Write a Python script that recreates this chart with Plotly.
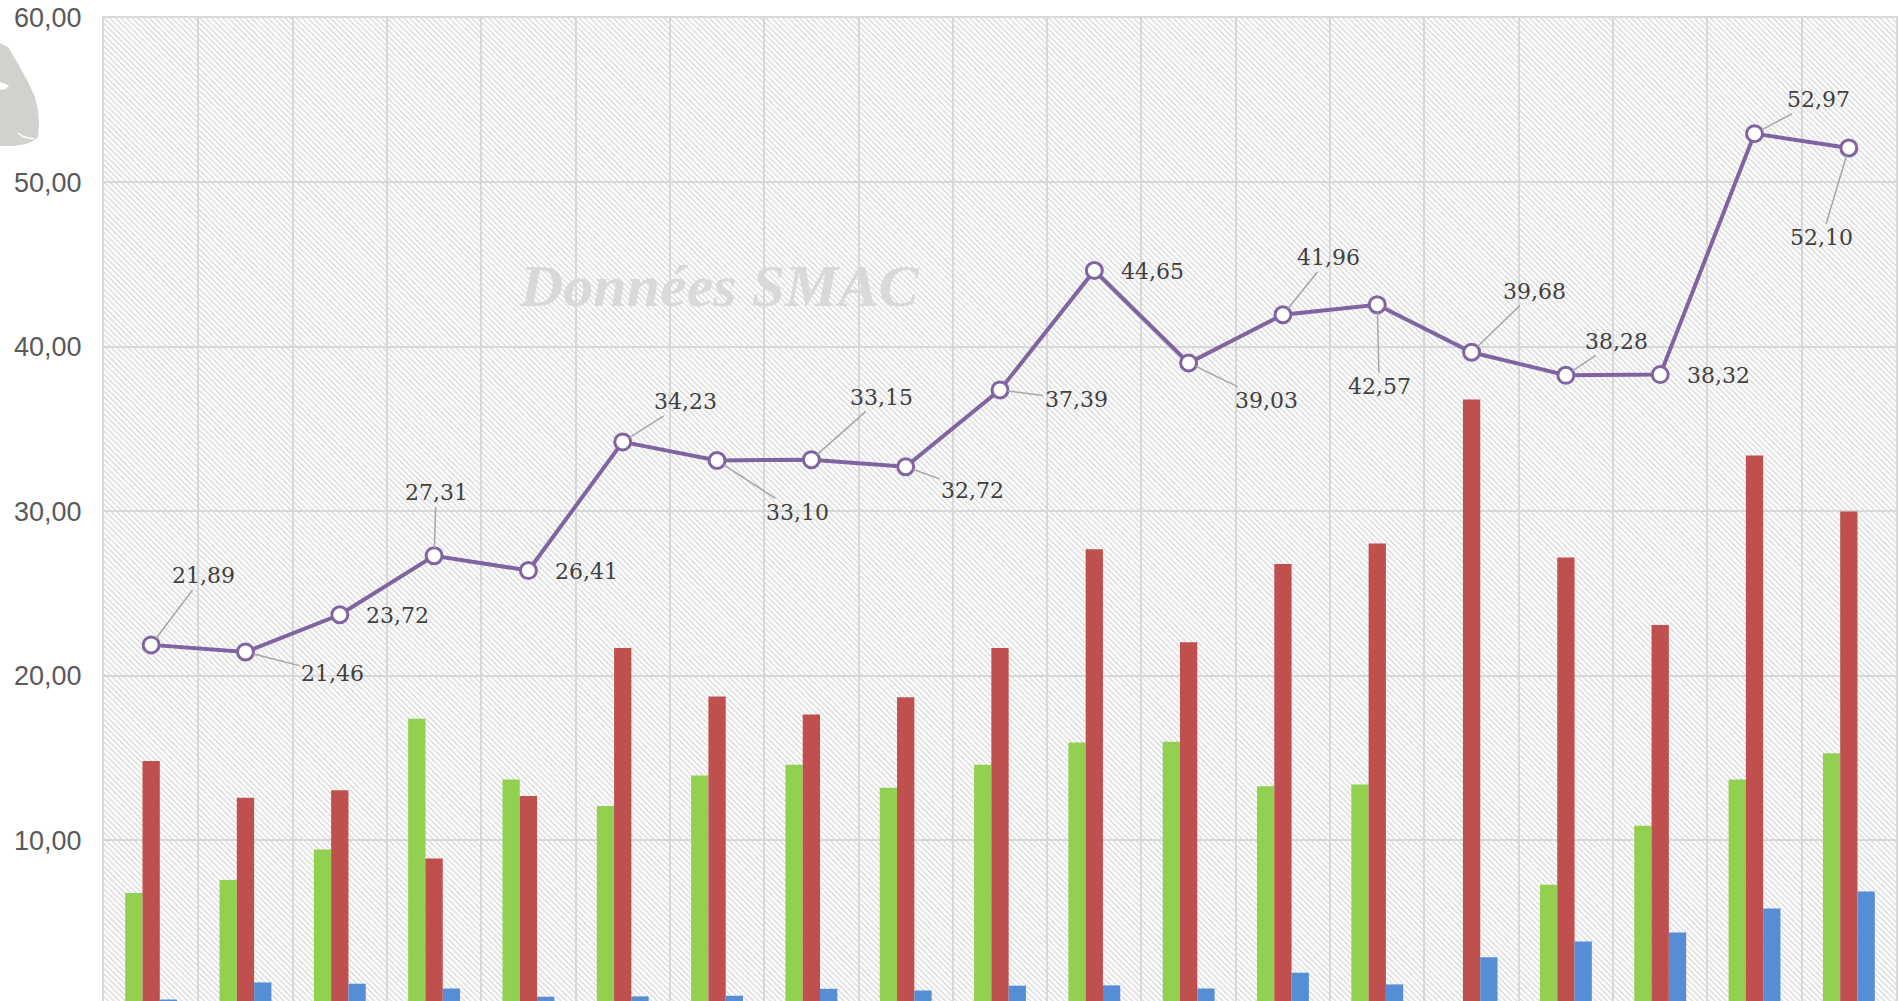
import plotly.graph_objects as go

# ---- data ----
categories = list(range(1, 20))
total_values = [21.89, 21.46, 23.72, 27.31, 26.41, 34.23, 33.10, 33.15, 32.72, 37.39,
                44.65, 39.03, 41.96, 42.57, 39.68, 38.28, 38.32, 52.97, 52.10]
green_values = [6.8, 7.6, 9.45, 17.4, 13.7, 12.1, 13.95, 14.6, 13.2, 14.6,
                15.95, 16.0, 13.3, 13.4, 0, 7.3, 10.9, 13.7, 15.3]
red_values = [14.83, 12.6, 13.05, 8.9, 12.7, 21.7, 18.75, 17.65, 18.7, 21.7,
              27.7, 22.05, 26.8, 28.05, 36.8, 27.2, 23.1, 33.4, 30.0]
blue_values = [0.33, 1.37, 1.29, 1.0, 0.5, 0.52, 0.56, 0.98, 0.88, 1.17,
               1.19, 1.0, 1.96, 1.25, 2.9, 3.86, 4.4, 5.87, 6.9]
y_ticks = [0, 10, 20, 30, 40, 50, 60]

# label offsets (pixels) and whether a leader line is shown
label_dx = [52, 87, 58, 2, 58, 63, 80, 70, 67, 76, 58, 78, 46, 2, 63, 51, 58, 64, -27]
label_dy = [-69, 22, 1, -63, 1, -40, 52, -62, 24, 10, 1, 38, -57, 82, -61, -34, 1, -34, 90]
label_leader = [1, 1, 0, 1, 0, 1, 1, 1, 1, 1, 0, 1, 1, 1, 1, 1, 0, 1, 1]

W, H = 1899, 1001
ML, MR, MT, MB = 104, 3, 18, 0
YMAX = 60
YMIN = 0.24

GREEN = "#92d050"
RED = "#c0504d"
BLUE = "#558ed5"
PURPLE = "#8064a2"
GRID = "#d9d9d9"

n = len(categories)
xr = [categories[0] - 0.5, categories[-1] + 0.5]

fig = go.Figure()

# hatched plot background (main axes, below data)
fig.add_trace(go.Bar(
    x=[(xr[0] + xr[1]) / 2], y=[YMAX], width=[xr[1] - xr[0]],
    marker=dict(color="rgba(0,0,0,0)", line=dict(width=0),
                pattern=dict(shape="\\", fgcolor="#d4d4d4", bgcolor="rgba(0,0,0,0)",
                             size=4, solidity=0.3, fillmode="replace")),
    hoverinfo="skip", showlegend=False, xaxis="x", yaxis="y"))

for vals, col in [(green_values, GREEN), (red_values, RED), (blue_values, BLUE)]:
    fig.add_trace(go.Bar(x=categories, y=vals, marker=dict(color=col, line=dict(width=0)),
                         showlegend=False, xaxis="x2", yaxis="y2"))

fig.add_trace(go.Scatter(
    x=categories, y=total_values, mode="lines+markers",
    line=dict(color=PURPLE, width=4),
    marker=dict(symbol="circle", size=16, color="white", line=dict(color=PURPLE, width=3)),
    showlegend=False, xaxis="x2", yaxis="y2", cliponaxis=False))

annotations = []
for xi, v, dx, dy, lead in zip(categories, total_values, label_dx, label_dy, label_leader):
    annotations.append(dict(
        x=xi, y=v, xref="x2", yref="y2", text=f"{v:.2f}".replace(".", ","),
        showarrow=True, ax=dx, ay=dy, arrowhead=0, arrowwidth=1.5,
        arrowcolor="#a6a6a6" if lead else "rgba(0,0,0,0)", standoff=8,
        font=dict(family="DejaVu Serif", size=22, color="#404040")))

# watermark
annotations.append(dict(
    x=(594 * 1.211 - ML) / (W - ML - MR), y=(H - 236 * 1.211) / (H - MT - MB),
    xref="paper", yref="paper", xanchor="center", yanchor="middle",
    text="Données SMAC", showarrow=False,
    font=dict(family="Liberation Serif", size=60, color="#d9d9d9", weight="bold", style="italic")))

# partially visible bottom tick label
annotations.append(dict(
    x=0, y=0, xref="paper", yref="y", xanchor="right", xshift=-17, text="0,00", showarrow=False,
    font=dict(family="Liberation Sans", size=27, color="#595959")))

pw, ph = W - ML - MR, H - MT - MB


def px(xp):
    return (xp - ML) / pw


def py(yp):
    return (H - MB - yp) / ph


logo_pts = [(0, 43), (8, 47), (17, 62), (27, 80), (35, 97), (38, 110), (39, 124), (38, 137),
            (33, 141), (26, 144), (14, 146), (0, 146)]
logo_path = "M " + " L ".join(f"{px(a):.5f},{py(b):.5f}" for a, b in logo_pts) + " Z"
eye_pts = [(0, 82), (6, 84), (9, 86), (6, 89), (0, 90)]
eye_path = "M " + " L ".join(f"{px(a):.5f},{py(b):.5f}" for a, b in eye_pts) + " Z"
lip_pts = [(18, 133), (24, 137), (34, 139)]
lip_path = "M " + " L ".join(f"{px(a):.5f},{py(b):.5f}" for a, b in lip_pts)

shapes = [
    dict(type="path", xref="paper", yref="paper", path=logo_path,
         fillcolor="#d2d1cd", line=dict(width=0), layer="above"),
    dict(type="path", xref="paper", yref="paper", path=eye_path,
         fillcolor="white", line=dict(width=0), layer="above"),
    dict(type="path", xref="paper", yref="paper", path=lip_path,
         line=dict(color="white", width=1.5), layer="above"),
]

fig.update_layout(
    width=W, height=H, autosize=False,
    margin=dict(l=ML, r=MR, t=MT, b=MB, pad=0),
    paper_bgcolor="white", plot_bgcolor="white",
    separators=", ",
    barmode="group", bargap=0.45, bargroupgap=0,
    showlegend=False,
    xaxis=dict(type="linear", range=xr, tick0=xr[0], dtick=1, showgrid=True,
               gridcolor=GRID, gridwidth=2, showticklabels=False, ticks="",
               zeroline=False, showline=True, mirror=True, linecolor=GRID, linewidth=2),
    yaxis=dict(range=[YMIN, YMAX], tickvals=y_ticks, tickformat=".2f", showgrid=True,
               gridcolor=GRID, gridwidth=2, zeroline=False, ticks="",
               ticklabelstandoff=15, showline=True, mirror=True, linecolor=GRID, linewidth=2,
               tickfont=dict(family="Liberation Sans", size=27, color="#595959")),
    xaxis2=dict(overlaying="x", range=xr, visible=False),
    yaxis2=dict(overlaying="y", range=[YMIN, YMAX], visible=False),
    annotations=annotations,
    shapes=shapes,
)

fig.write_html("out.html", config={"displayModeBar": False},
               post_script="document.body.style.margin='0';document.body.style.overflow='hidden';")
